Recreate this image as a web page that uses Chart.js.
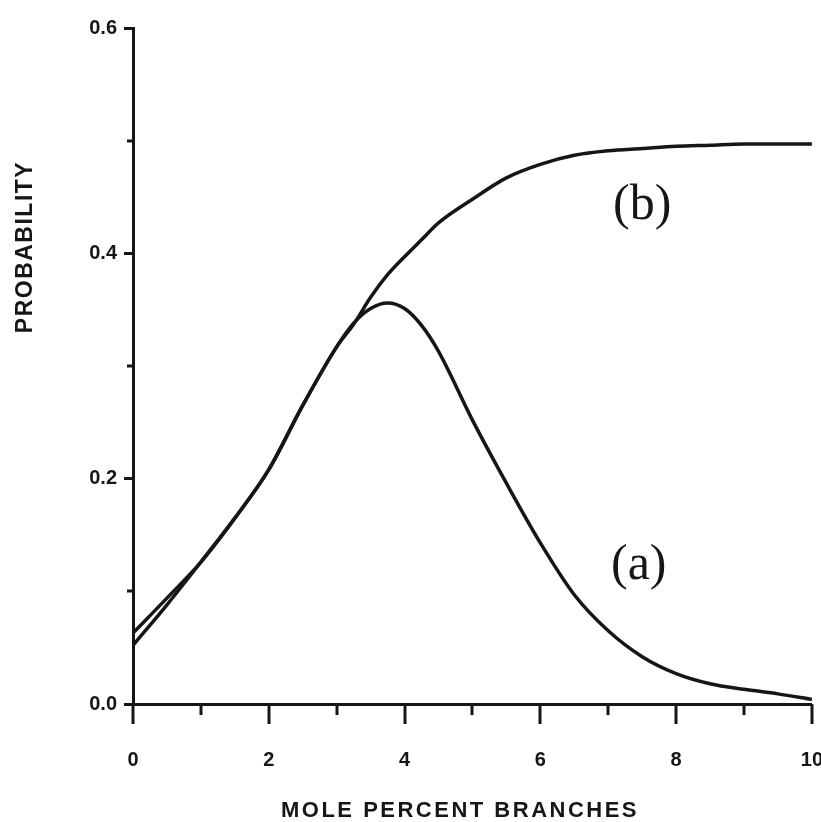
<!DOCTYPE html>
<html>
<head>
<meta charset="utf-8">
<script src="https://cdn.jsdelivr.net/npm/chart.js@4.4.1/dist/chart.umd.min.js"></script>
<style>
  html, body { margin: 0; padding: 0; background: #fff; }
  #wrap { width: 821px; height: 822px; }
</style>
</head>
<body>
<div id="wrap"><canvas id="chart" width="821" height="822"></canvas></div>
<script>
// values
var xValues = [0, 0.5, 1, 1.5, 2, 2.5, 3, 3.25, 3.5, 3.75, 4, 4.25, 4.5, 5, 5.5, 6, 6.5, 7, 7.5, 8, 8.5, 9, 9.5, 10];
var curveA = [0.063, 0.094, 0.126, 0.165, 0.208, 0.265, 0.317, 0.338, 0.351, 0.356, 0.351, 0.336, 0.313, 0.252, 0.196, 0.143, 0.097, 0.065, 0.042, 0.027, 0.018, 0.013, 0.009, 0.004];
var curveB = [0.052, 0.088, 0.126, 0.165, 0.208, 0.265, 0.317, 0.337, 0.361, 0.381, 0.397, 0.412, 0.427, 0.448, 0.467, 0.479, 0.487, 0.491, 0.493, 0.495, 0.496, 0.497, 0.497, 0.497];
var xMajorTicks = [0, 2, 4, 6, 8, 10];
var xMinorTicks = [1, 3, 5, 7, 9];
var yMinorTicks = [0.1, 0.3, 0.5];
var curveLabels = [
  { text: '(b)', x: 7.5, y: 0.442 },
  { text: '(a)', x: 7.45, y: 0.123 }
];

var ink = '#161616';

function pts(ys) {
  return xValues.map(function (x, i) { return { x: x, y: ys[i] }; });
}

// x ticks, minor y ticks, curve labels and axis titles
var extras = {
  id: 'extras',
  afterDraw: function (chart) {
    var ctx = chart.ctx;
    var xs = chart.scales.x, ys = chart.scales.y;
    var area = chart.chartArea;
    ctx.save();
    ctx.strokeStyle = ink;
    ctx.lineWidth = 3;
    function xTick(v, len) {
      var px = Math.round(xs.getPixelForValue(v));
      ctx.beginPath();
      ctx.moveTo(px, area.bottom);
      ctx.lineTo(px, area.bottom + len);
      ctx.stroke();
    }
    xMajorTicks.forEach(function (v) { xTick(v, 20); });
    xMinorTicks.forEach(function (v) { xTick(v, 11); });
    yMinorTicks.forEach(function (v) {
      var py = Math.round(ys.getPixelForValue(v));
      ctx.beginPath();
      ctx.moveTo(area.left, py);
      ctx.lineTo(area.left - 6, py);
      ctx.stroke();
    });

    ctx.fillStyle = ink;
    ctx.font = '50px "Liberation Serif", "Times New Roman", serif';
    ctx.textAlign = 'center';
    ctx.textBaseline = 'middle';
    curveLabels.forEach(function (l) {
      ctx.fillText(l.text, xs.getPixelForValue(l.x), ys.getPixelForValue(l.y));
    });

    ctx.font = 'bold 22px "Liberation Sans", Arial, sans-serif';
    ctx.letterSpacing = '2.5px';
    ctx.textBaseline = 'alphabetic';
    ctx.fillText('MOLE PERCENT BRANCHES', 460, 817);

    ctx.translate(32, 247);
    ctx.rotate(-Math.PI / 2);
    ctx.font = 'bold 23px "Liberation Sans", Arial, sans-serif';
    ctx.letterSpacing = '1.5px';
    ctx.fillText('PROBABILITY', 0, 0);
    ctx.restore();
  }
};

var ctx = document.getElementById('chart').getContext('2d');
var chart = new Chart(ctx, {
  type: 'line',
  data: {
    datasets: [
      { label: '(a)', data: pts(curveA) },
      { label: '(b)', data: pts(curveB) }
    ]
  },
  options: {
    responsive: false,
    animation: false,
    layout: { padding: { top: 28, right: 9, left: 0, bottom: 0 } },
    elements: {
      point: { radius: 0 },
      line: { borderColor: ink, borderWidth: 3.5, cubicInterpolationMode: 'monotone', fill: false }
    },
    plugins: { legend: { display: false }, tooltip: { enabled: false } },
    scales: {
      x: {
        type: 'linear',
        min: 0,
        max: 10,
        afterFit: function (s) { s.height = 118; },
        border: { display: true, color: ink, width: 3 },
        // tick marks drawn by the plugin; the long invisible tick just spaces the labels
        grid: { drawOnChartArea: false, tickLength: 46, tickColor: 'rgba(0,0,0,0)' },
        ticks: {
          stepSize: 2,
          padding: -2,
          color: ink,
          maxRotation: 0,
          font: { family: '"Liberation Sans", Arial, sans-serif', size: 20, weight: 'bold' }
        }
      },
      y: {
        min: 0,
        max: 0.6,
        afterFit: function (s) { s.width = 133; },
        border: { display: true, color: ink, width: 3 },
        grid: { drawOnChartArea: false, color: ink, tickLength: 9, tickWidth: 3, tickColor: ink },
        ticks: {
          stepSize: 0.2,
          padding: 7,
          color: ink,
          font: { family: '"Liberation Sans", Arial, sans-serif', size: 20, weight: 'bold' },
          callback: function (v) { return v.toFixed(1); }
        }
      }
    }
  },
  plugins: [extras]
});
</script>
</body>
</html>
